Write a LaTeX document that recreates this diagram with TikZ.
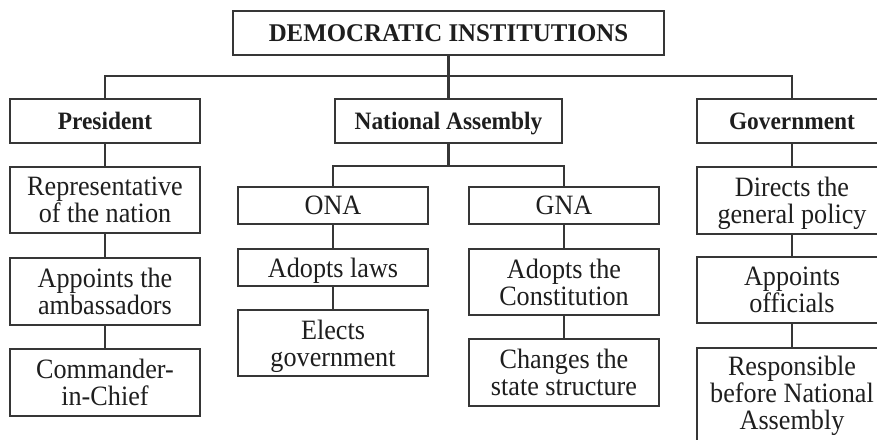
\documentclass[tikz,border=0pt]{standalone}
\usepackage{fontspec}
\setmainfont{Liberation Serif}[FakeStretch=0.935]
\newfontfamily\titlefont{Liberation Serif}[FakeStretch=0.975]
\definecolor{ink}{HTML}{1E1E1E}
\definecolor{rule}{HTML}{363636}
% a line whose descenders do not count for centring
\newcommand\flatline[1]{\raisebox{0pt}[\height][0pt]{#1}}
\begin{document}
\begin{tikzpicture}[x=1pt,y=-1pt,
  box/.style={draw=rule,line width=1.8pt,inner sep=0pt,align=center,text=ink,
    minimum width=190pt,font=\fontsize{28}{27}\selectfont},
  head/.style={box,minimum height=44pt,font=\bfseries\fontsize{25}{27}\selectfont},
  link/.style={draw=rule,line width=2.2pt}]
\useasboundingbox (0,0) rectangle (877,439);
\clip (0,0) rectangle (877,439);
\fill[white] (0,0) rectangle (877,439);

% top level
\node[head,minimum width=431pt,font=\titlefont\bfseries\fontsize{25.5}{28}\selectfont] (title) at (448.5,33) {DEMOCRATIC INSTITUTIONS};
\node[head] (pres) at (105,121) {President};
\node[head,minimum width=227pt] (na) at (448.5,121) {\flatline{National Assembly}};
\node[head] (gov) at (792,121) {Government};

% President column
\node[box,minimum height=66pt] (rep) at (105,200) {Representative\\of the nation};
\node[box,minimum height=67pt] (amb) at (105,291.5) {Appoints the\\ambassadors};
\node[box,minimum height=67pt] (cmd) at (105,382.5) {Commander-\\in-Chief};

% National Assembly branches
\node[box,minimum height=37pt] (ona) at (333,205.5) {ONA};
\node[box,minimum height=37pt] (laws) at (333,267.5) {\flatline{Adopts laws}};
\node[box,minimum height=66pt] (elects) at (333,343) {Elects\\\flatline{government}};
\node[box,minimum height=37pt] (gna) at (564,205.5) {GNA};
\node[box,minimum height=66pt] (const) at (564,282) {Adopts the\\Constitution};
\node[box,minimum height=67pt] (chg) at (564,372.5) {Changes the\\state structure};

% Government column
\node[box,minimum height=67pt] (dir) at (792,200.5) {Directs the\\\flatline{general policy}};
\node[box,minimum height=66pt] (off) at (792,290) {Appoints\\officials};
\node[box,minimum height=96pt] (resp) at (792,396) {Responsible\\before National\\\raisebox{0pt}[\height][7pt]{Assembly}};

% connectors
\draw[link] (title.south) -- (na.north);
\draw[link] (pres.north) -- ++(0,-22) -| (gov.north);
\draw[link] (pres.south) -- (rep.north);
\draw[link] (rep.south) -- (amb.north);
\draw[link] (amb.south) -- (cmd.north);
\draw[link] (na.south) -- ++(0,22) coordinate (nabus);
\draw[link] (ona.north) |- (nabus) -| (gna.north);
\draw[link] (ona.south) -- (laws.north);
\draw[link] (laws.south) -- (elects.north);
\draw[link] (gna.south) -- (const.north);
\draw[link] (const.south) -- (chg.north);
\draw[link] (gov.south) -- (dir.north);
\draw[link] (dir.south) -- (off.north);
\draw[link] (off.south) -- (resp.north);
\end{tikzpicture}
\end{document}
